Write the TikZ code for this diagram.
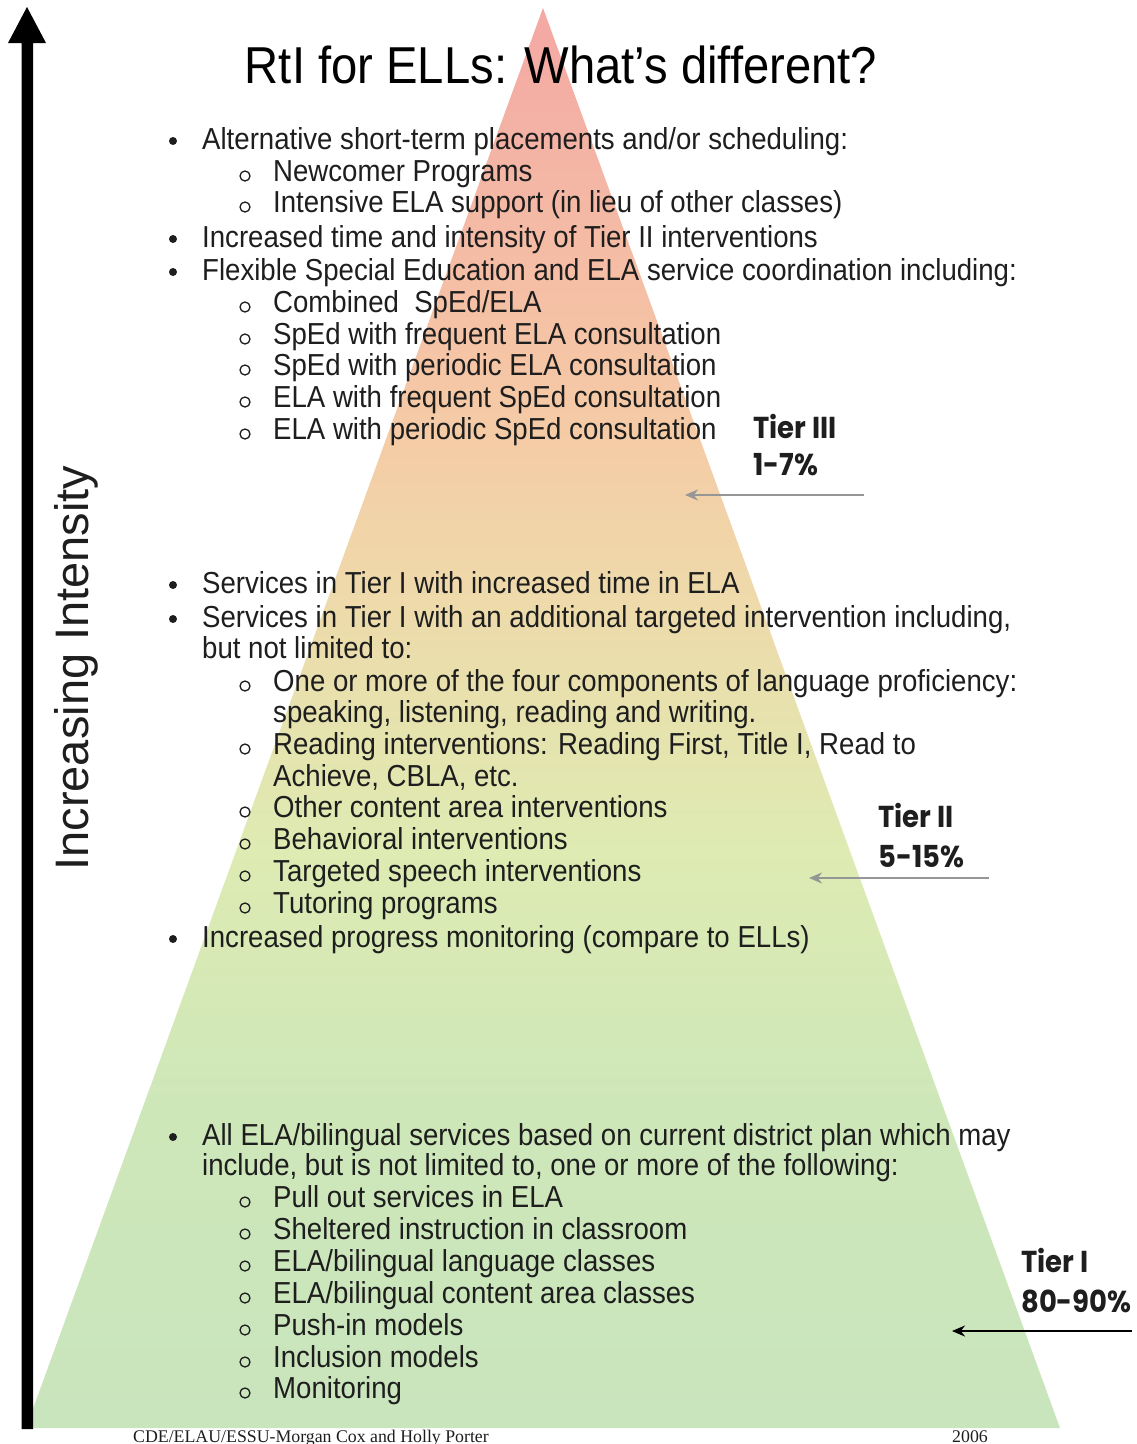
\documentclass[tikz,border=0pt]{standalone}
\usepackage{fontspec}
\usepackage{graphicx}
\setmainfont{Liberation Sans}
\newfontfamily\tierfont{Poppins}
\newfontfamily\footfont{Liberation Serif}
\usetikzlibrary{arrows.meta}
\definecolor{cB}{RGB}{201,229,189}
\definecolor{cOne}{RGB}{206,231,185}
\definecolor{cTwo}{RGB}{222,235,178}
\definecolor{cThree}{RGB}{238,218,170}
\definecolor{cFour}{RGB}{245,203,166}
\definecolor{cT}{RGB}{244,168,164}
\definecolor{txtc}{RGB}{30,30,30}
\definecolor{arrgray}{RGB}{150,150,150}
\pgfdeclareverticalshading{tri}{100bp}{color(0bp)=(cB); color(25bp)=(cB); color(36.5bp)=(cOne); color(45.35bp)=(cTwo); color(54.15bp)=(cThree); color(60.1bp)=(cFour); color(75bp)=(cT); color(100bp)=(cT)}
\newcommand\st[1]{\scalebox{1}[1.1]{#1}}
\tikzset{
  txt/.style={anchor=base west, inner sep=0pt, text=txtc, font=\fontsize{27.6}{32}\selectfont},
  tierlbl/.style={anchor=base west, inner sep=0pt, text=txtc, font=\fontsize{27.5}{32}\selectfont\tierfont\bfseries},
  dotbul/.style={fill=txtc},
  ringbul/.style={draw=txtc, line width=1.3pt},
  tierarrow/.style={line width=2.6pt, -{Stealth[length=13pt,width=11pt]}},
}
\newcommand\lvA[3]{\fill[dotbul] (173,#2-8) circle (4); \node[txt] (#1) at (202,#2) {\st{#3}};}
\newcommand\lvB[3]{\draw[ringbul] (245,#2-5) circle (5); \node[txt] (#1) at (273,#2) {\st{#3}};}
\newcommand\contA[3]{\node[txt] (#1) at (202,#2) {\st{#3}};}
\newcommand\contB[3]{\node[txt] (#1) at (273,#2) {\st{#3}};}
\begin{document}
\begin{tikzpicture}[x=1pt,y=-1pt]
\useasboundingbox (0,0) rectangle (1137,1444);
\fill[white] (0,0) rectangle (1137,1444);
% pyramid
\shade[shading=tri] (543,8) -- (1060,1428) -- (26,1428) -- cycle;
% intensity arrow
\fill[black] (21.5,1429) -- (21.5,43) -- (8,43) -- (27,7) -- (46,43) -- (33,43) -- (33,1429) -- cycle;
\node[rotate=90, anchor=base, inner sep=0pt, font=\fontsize{47}{50}\selectfont, text=txtc] (intensity) at (88,668) {Increasing Intensity};
% title
\node[anchor=base, inner sep=0pt, font=\fontsize{47.2}{50}\selectfont, text=black] (title) at (561,83) {\st{RtI for ELLs: What’s different?}};
% Tier III
\lvA{a1}{149}{Alternative short-term placements and/or scheduling:}
\lvB{a2}{181}{Newcomer Programs}
\lvB{a3}{212}{Intensive ELA support (in lieu of other classes)}
\lvA{a4}{247}{Increased time and intensity of Tier II interventions}
\lvA{a5}{280}{Flexible Special Education and ELA service coordination including:}
\lvB{a6}{312}{Combined\ \ SpEd/ELA}
\lvB{a7}{344}{SpEd with frequent ELA consultation}
\lvB{a8}{375}{SpEd with periodic ELA consultation}
\lvB{a9}{407}{ELA with frequent SpEd consultation}
\lvB{a10}{439}{ELA with periodic SpEd consultation}
\node[tierlbl] (t3a) at (753,438) {\st{Tier III}};
\node[tierlbl] (t3b) at (753,475) {\st{1-7\%}};
\coordinate (t3s) at (864,495);
\coordinate (t3e) at (685,495);
\draw[tierarrow, arrgray] (t3s) -- (t3e);
% Tier II
\lvA{b1}{593}{Services in Tier I with increased time in ELA}
\lvA{b2}{627}{Services in Tier I with an additional targeted intervention including,}
\contA{b3}{658}{but not limited to:}
\lvB{b4}{691}{One or more of the four components of language proficiency:}
\contB{b5}{722}{speaking, listening, reading and writing.}
\lvB{b6}{754}{Reading interventions: Reading First, Title I, Read to}
\contB{b7}{786}{Achieve, CBLA, etc.}
\lvB{b8}{817}{Other content area interventions}
\lvB{b9}{849}{Behavioral interventions}
\lvB{b10}{881}{Targeted speech interventions}
\lvB{b11}{913}{Tutoring programs}
\lvA{b12}{947}{Increased progress monitoring (compare to ELLs)}
\node[tierlbl] (t2a) at (878,827) {\st{Tier II}};
\node[tierlbl] (t2b) at (878,867) {\st{5-15\%}};
\coordinate (t2s) at (989,878);
\coordinate (t2e) at (809,878);
\draw[tierarrow, arrgray] (t2s) -- (t2e);
% Tier I
\lvA{c1}{1145}{All ELA/bilingual services based on current district plan which may}
\contA{c2}{1175}{include, but is not limited to, one or more of the following:}
\lvB{c3}{1207}{Pull out services in ELA}
\lvB{c4}{1239}{Sheltered instruction in classroom}
\lvB{c5}{1271}{ELA/bilingual language classes}
\lvB{c6}{1303}{ELA/bilingual content area classes}
\lvB{c7}{1335}{Push-in models}
\lvB{c8}{1367}{Inclusion models}
\lvB{c9}{1398}{Monitoring}
\node[tierlbl] (t1a) at (1021,1272) {\st{Tier I}};
\node[tierlbl] (t1b) at (1021,1312) {\st{80-90\%}};
\coordinate (t1s) at (1132,1331);
\coordinate (t1e) at (952,1331);
\draw[tierarrow, black] (t1s) -- (t1e);
% footer
\node[anchor=base, inner sep=0pt, font=\fontsize{17.8}{20}\footfont, text=txtc] (foot) at (311,1442) {CDE/ELAU/ESSU-Morgan Cox and Holly Porter};
\node[anchor=base, inner sep=0pt, font=\fontsize{17.8}{20}\footfont, text=txtc] (year) at (970,1442) {2006};
\end{tikzpicture}
\end{document}
